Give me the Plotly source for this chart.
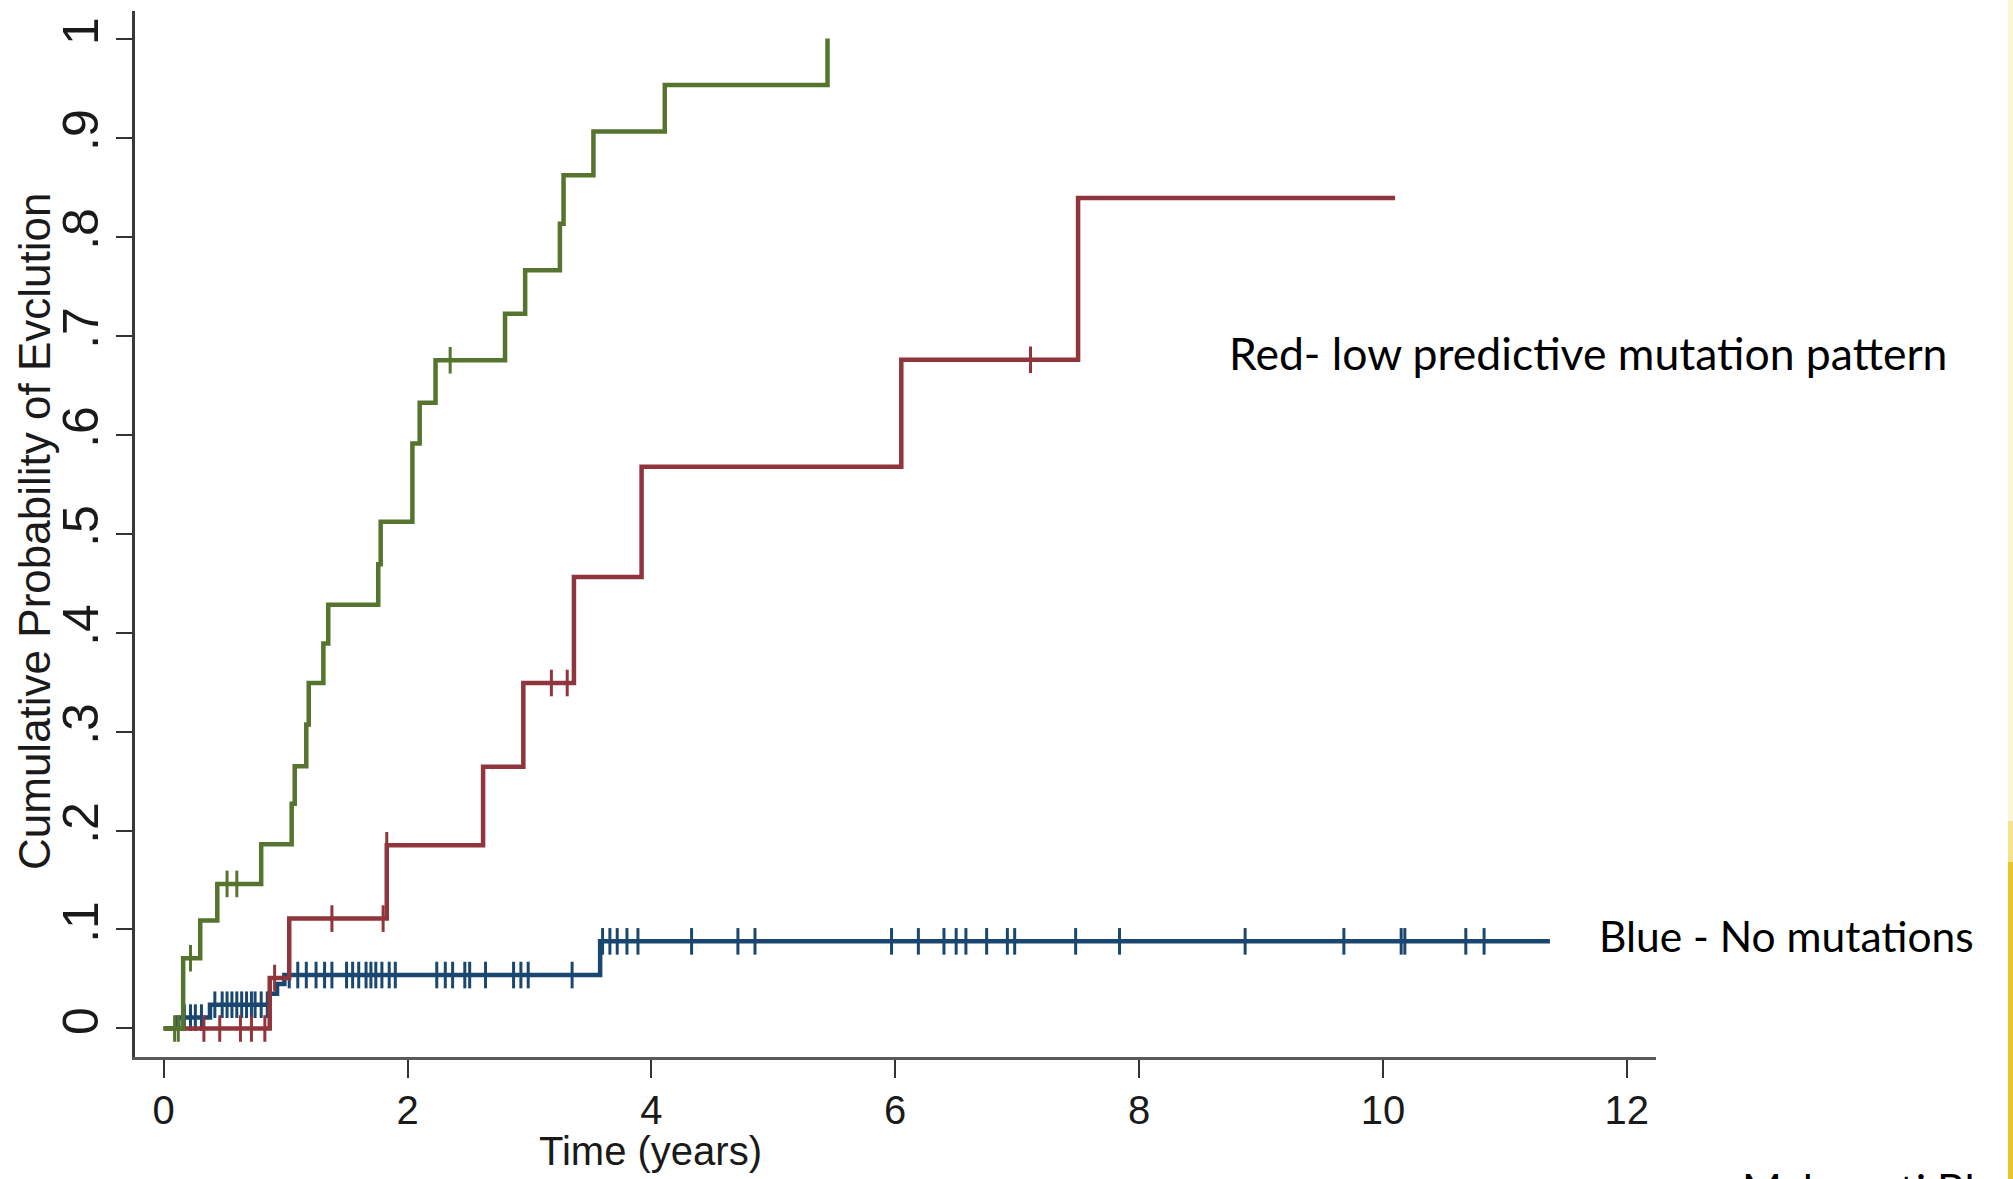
import plotly.graph_objects as go

# ---------------- data ----------------
x_tick_vals = [0, 2, 4, 6, 8, 10, 12]
y_tick_vals = [0, 0.1, 0.2, 0.3, 0.4, 0.5, 0.6, 0.7, 0.8, 0.9, 1.0]
y_tick_text = ["0", ".1", ".2", ".3", ".4", ".5", ".6", ".7", ".8", ".9", "1"]

# Blue - no mutations
blue_times = [0, 0.12, 0.38, 0.87, 0.93, 0.99, 3.58]
blue_prob = [0, 0.011, 0.024, 0.035, 0.045, 0.054, 0.088]
blue_end = 11.37
blue_censored = [0.17, 0.22, 0.26, 0.31,
                 0.42, 0.48, 0.52, 0.56, 0.60, 0.64, 0.68, 0.72, 0.75, 0.80, 0.85,
                 1.03, 1.10, 1.17, 1.25, 1.32, 1.38, 1.50, 1.55, 1.60, 1.66, 1.70,
                 1.74, 1.79, 1.85, 1.90, 2.24, 2.31, 2.37, 2.47, 2.51, 2.64, 2.87,
                 2.93, 2.99, 3.35,
                 3.60, 3.66, 3.72, 3.80, 3.89, 4.33, 4.71, 4.85, 5.97, 6.19, 6.40,
                 6.50, 6.58, 6.75, 6.92, 6.98, 7.48, 7.84, 8.87, 9.68, 10.15, 10.18,
                 10.68, 10.83]

# Red - low predictive mutation pattern
red_times = [0, 0.87, 1.03, 1.83, 2.62, 2.95, 3.365, 3.92, 6.05, 7.50]
red_prob = [0, 0.051, 0.111, 0.185, 0.2645, 0.349, 0.456, 0.5675, 0.6755, 0.839]
red_end = 10.10
red_censored = [0.33, 0.46, 0.63, 0.72, 0.83, 0.91, 1.38, 1.80, 1.83, 3.18, 3.31, 7.11]

# Green
green_times = [0, 0.16, 0.30, 0.44, 0.80, 1.05, 1.075, 1.17, 1.19, 1.31, 1.35,
               1.76, 1.78, 2.04, 2.10, 2.23, 2.80, 2.965, 3.25, 3.28, 3.525,
               4.11, 5.445]
green_prob = [0, 0.071, 0.109, 0.146, 0.186, 0.227, 0.265, 0.307, 0.349, 0.389,
              0.428, 0.469, 0.512, 0.591, 0.632, 0.675, 0.722, 0.766, 0.813,
              0.862, 0.906, 0.953, 1.0]
green_censored = [0.09, 0.12, 0.22, 0.52, 0.60, 2.35]

# ---------------- styling ----------------
NAVY = "#1a476f"
MAROON = "#90353b"
GREEN = "#55752f"
AXIS_FONT = "Liberation Sans, Arial, sans-serif"
NOTE_FONT = "Lato, Open Sans, sans-serif"

W, H = 2013, 1179
ML, MR, MT, MB = 135, 357, 11, 122
PW = W - ML - MR
PH = H - MT - MB


def px_to_paper_x(px):
    return (px - ML) / PW


def px_to_paper_y(py):
    return (H - MB - py) / PH


def step_value(times, probs, t):
    v = probs[0]
    for ti, pi in zip(times, probs):
        if ti <= t:
            v = pi
    return v


fig = go.Figure()

groups = [
    (blue_times, blue_prob, blue_end, blue_censored, NAVY),
    (red_times, red_prob, red_end, red_censored, MAROON),
    (green_times, green_prob, None, green_censored, GREEN),
]

for times, probs, end, cens, col in groups:
    xs = list(times)
    ys = list(probs)
    if end is not None:
        xs.append(end)
        ys.append(probs[-1])
    fig.add_trace(go.Scatter(
        x=xs, y=ys, mode="lines", line=dict(shape="hv", color=col, width=4.5),
        hoverinfo="skip", showlegend=False))
    fig.add_trace(go.Scatter(
        x=cens, y=[step_value(times, probs, t) for t in cens], mode="markers",
        marker=dict(symbol="line-ns", size=19, color=col,
                    line=dict(color=col, width=3)),
        hoverinfo="skip", showlegend=False))

fig.update_layout(
    width=W, height=H,
    margin=dict(l=ML, r=MR, t=MT, b=MB, pad=0),
    paper_bgcolor="white", plot_bgcolor="white",
    showlegend=False,
    xaxis=dict(
        range=[-0.235, 12.24], tickvals=x_tick_vals,
        ticktext=[str(v) for v in x_tick_vals],
        ticks="outside", ticklen=18, tickwidth=2, tickcolor="#333333",
        showline=True, linecolor="#5a5a5a", linewidth=3,
        showgrid=False, zeroline=False,
        tickfont=dict(family=AXIS_FONT, size=40, color="#1a1a1a"),
        ticklabelstandoff=-2,
    ),
    yaxis=dict(
        range=[-0.0288, 1.0278], tickvals=y_tick_vals, ticktext=y_tick_text,
        ticks="outside", ticklen=16, tickwidth=2, tickcolor="#333333",
        showline=True, linecolor="#3a3a3a", linewidth=3,
        showgrid=False, zeroline=False, tickangle=-90,
        tickfont=dict(family=AXIS_FONT, size=50, color="#1a1a1a"),
        ticklabelstandoff=-2,
    ),
)

annotations = [
    dict(text="Time (years)", x=px_to_paper_x(650), y=px_to_paper_y(1151),
         xanchor="center", yanchor="middle",
         font=dict(family=AXIS_FONT, size=40, color="#1a1a1a")),
    dict(text="Cumulative Probability of Evclution", x=px_to_paper_x(34),
         y=px_to_paper_y(532), textangle=-90, xanchor="center", yanchor="middle",
         font=dict(family=AXIS_FONT, size=44, color="#1a1a1a")),
    dict(text="Red- low predictive mutation pattern", x=px_to_paper_x(1227),
         y=px_to_paper_y(352), xanchor="left", yanchor="middle",
         font=dict(family=NOTE_FONT, size=44.5, color="#000000")),
    dict(text="Blue - No mutations", x=px_to_paper_x(1597),
         y=px_to_paper_y(935), xanchor="left", yanchor="middle",
         font=dict(family=NOTE_FONT, size=42.5, color="#000000")),
    dict(text="Malcovati Blood 2014", x=px_to_paper_x(1740),
         y=px_to_paper_y(1188), xanchor="left", yanchor="middle",
         font=dict(family=NOTE_FONT, size=43, color="#000000")),
]
for a in annotations:
    a.update(xref="paper", yref="paper", showarrow=False)
fig.update_layout(annotations=annotations)

# slide edge (yellow strip at the right border)
fig.add_shape(type="rect", xref="paper", yref="paper",
              x0=px_to_paper_x(2008), x1=px_to_paper_x(2020),
              y0=px_to_paper_y(821), y1=px_to_paper_y(-5),
              fillcolor="#fbf7d6", line=dict(width=0), layer="above")
fig.add_shape(type="rect", xref="paper", yref="paper",
              x0=px_to_paper_x(2008), x1=px_to_paper_x(2020),
              y0=px_to_paper_y(862), y1=px_to_paper_y(821),
              fillcolor="#f2e48e", line=dict(width=0), layer="above")
fig.add_shape(type="rect", xref="paper", yref="paper",
              x0=px_to_paper_x(2008), x1=px_to_paper_x(2020),
              y0=px_to_paper_y(1185), y1=px_to_paper_y(862),
              fillcolor="#e6c52c", line=dict(width=0), layer="above")

fig.write_html("out.html", include_plotlyjs=True, config={"displayModeBar": False})
